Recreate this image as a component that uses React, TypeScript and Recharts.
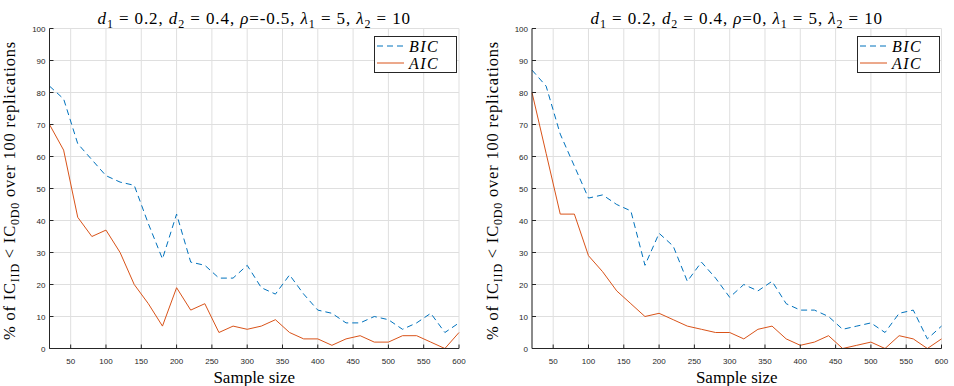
import React from 'react';
import {
  LineChart,
  Line,
  XAxis,
  YAxis,
  CartesianGrid,
  Legend,
  Label
} from 'recharts';

// sample sizes (x axis)
const sampleSizes = [
  20, 40, 60, 80, 100, 120, 140, 160, 180, 200,
  220, 240, 260, 280, 300, 320, 340, 360, 380, 400,
  420, 440, 460, 480, 500, 520, 540, 560, 580, 600
];

// rho = -0.5
const bicLeft = [82, 78, 64, 59, 54, 52, 51, 39, 28, 42, 27, 26, 22, 22, 26, 19, 17, 23, 17, 12, 11, 8, 8, 10, 9, 6, 8, 11, 5, 8];
const aicLeft = [70, 62, 41, 35, 37, 30, 20, 14, 7, 19, 12, 14, 5, 7, 6, 7, 9, 5, 3, 3, 1, 3, 4, 2, 2, 4, 4, 2, 0, 5];

// rho = 0
const bicRight = [87, 82, 67, 57, 47, 48, 45, 43, 26, 36, 32, 21, 27, 22, 16, 20, 18, 21, 14, 12, 12, 10, 6, 7, 8, 5, 11, 12, 3, 7];
const aicRight = [80, 61, 42, 42, 29, 24, 18, 14, 10, 11, 9, 7, 6, 5, 5, 3, 6, 7, 3, 1, 2, 4, 0, 1, 2, 0, 4, 3, 0, 3];

const xTicks = [50, 100, 150, 200, 250, 300, 350, 400, 450, 500, 550, 600];
const yTicks = [0, 10, 20, 30, 40, 50, 60, 70, 80, 90, 100];

const BIC_COLOR = '#0072BD';
const AIC_COLOR = '#D95319';
const AXIS_COLOR = '#262626';
const SERIF = "'Liberation Serif', 'Times New Roman', serif";
const SANS = "'Liberation Sans', Arial, sans-serif";

const serifStyle = { fontFamily: SERIF };
const sansStyle = { fontFamily: SANS };

const BottomTick = ({ x, y, payload }: any) => (
  <g>
    <line x1={x} x2={x} y1={y} y2={y - 4} stroke={AXIS_COLOR} />
    <text x={x} y={y + 15} textAnchor="middle" fontSize={8} style={sansStyle} fill={AXIS_COLOR}>
      {payload.value}
    </text>
  </g>
);

const LeftTick = ({ x, y, payload }: any) => (
  <g>
    <line x1={x} x2={x + 4} y1={y} y2={y} stroke={AXIS_COLOR} />
    <text x={x - 4} y={y + 3} textAnchor="end" fontSize={8} style={sansStyle} fill={AXIS_COLOR}>
      {payload.value}
    </text>
  </g>
);

const TopTick = ({ x, y }: any) => (
  <line x1={x} x2={x} y1={y} y2={y + 4} stroke={AXIS_COLOR} />
);

const RightTick = ({ x, y }: any) => (
  <line x1={x} x2={x - 4} y1={y} y2={y} stroke={AXIS_COLOR} />
);

// title above the plot and "Sample size" below it, both centred on the plot
const renderXLabels = (rho: string) => (props: any) => {
  const vb = props.viewBox || {};
  const cx = vb.x + vb.width / 2;
  return (
    <g>
      <text x={cx} y={24} textAnchor="middle" fontSize={17} style={serifStyle} fill="#000" letterSpacing={0.9}>
        <tspan fontStyle="italic">d</tspan>
        <tspan dy={4} fontSize={12}>1</tspan>
        <tspan dy={-4}> = 0.2, </tspan>
        <tspan fontStyle="italic">d</tspan>
        <tspan dy={4} fontSize={12}>2</tspan>
        <tspan dy={-4}> = 0.4, </tspan>
        <tspan fontStyle="italic">ρ</tspan>
        <tspan>={rho}, </tspan>
        <tspan fontStyle="italic">λ</tspan>
        <tspan dy={4} fontSize={12}>1</tspan>
        <tspan dy={-4}> = 5, </tspan>
        <tspan fontStyle="italic">λ</tspan>
        <tspan dy={4} fontSize={12}>2</tspan>
        <tspan dy={-4}> = 10</tspan>
      </text>
      <text x={cx} y={383} textAnchor="middle" fontSize={17} style={serifStyle} fill="#000">
        Sample size
      </text>
    </g>
  );
};

const renderYLabel = (props: any) => {
  const vb = props.viewBox || {};
  const lx = vb.x + vb.width - 34.5;
  const cy = vb.y + vb.height / 2 + 2;
  return (
    <text
      x={lx}
      y={cy}
      transform={`rotate(-90, ${lx}, ${cy})`}
      textAnchor="middle"
      fontSize={16.5}
      style={serifStyle}
      fill="#000"
      letterSpacing={0.8}
    >
      <tspan>% of IC</tspan>
      <tspan dy={4} fontSize={12}>IID</tspan>
      <tspan dy={-4}> {'<'} IC</tspan>
      <tspan dy={4} fontSize={12}>0D0</tspan>
      <tspan dy={-4}> over 100 replications</tspan>
    </text>
  );
};

const legendItems = [
  { name: 'BIC', color: BIC_COLOR, dash: '6 4' },
  { name: 'AIC', color: AIC_COLOR, dash: undefined }
];

const renderLegend = () => (
  <div
    style={{
      border: `1px solid ${AXIS_COLOR}`,
      background: '#fff',
      width: 81,
      height: 35,
      boxSizing: 'content-box',
      display: 'flex',
      flexDirection: 'column',
      justifyContent: 'center'
    }}
  >
    {legendItems.map((it) => (
      <div key={it.name} style={{ display: 'flex', alignItems: 'center', height: 17 }}>
        <svg width={32} height={12} style={{ display: 'block' }}>
          <line x1={2} x2={29} y1={6} y2={6} stroke={it.color} strokeWidth={1} strokeDasharray={it.dash} />
        </svg>
        <span
          style={{
            fontFamily: SERIF,
            fontStyle: 'italic',
            fontSize: 16,
            lineHeight: '17px',
            letterSpacing: 1.5,
            color: '#000',
            marginLeft: 2
          }}
        >
          {it.name}
        </span>
      </div>
    ))}
  </div>
);

interface PanelProps {
  bic: number[];
  aic: number[];
  rho: string;
  marginLeft: number;
  marginRight: number;
  legendLeft: number;
}

const Panel = ({ bic, aic, rho, marginLeft, marginRight, legendLeft }: PanelProps) => {
  const data = sampleSizes.map((n, i) => ({ n, bic: bic[i], aic: aic[i] }));
  return (
    <LineChart
      width={477}
      height={386}
      data={data}
      margin={{ top: 28.5, right: marginRight, bottom: 17.5, left: marginLeft }}
    >
      <CartesianGrid stroke="#dfdfdf" strokeWidth={1} />
      <XAxis
        dataKey="n"
        type="number"
        domain={[20, 600]}
        ticks={xTicks}
        height={20}
        tickSize={0}
        tickMargin={0}
        tick={<BottomTick />}
        axisLine={{ stroke: AXIS_COLOR }}
        interval={0}
      >
        <Label content={renderXLabels(rho)} />
      </XAxis>
      <XAxis
        xAxisId="top"
        orientation="top"
        dataKey="n"
        type="number"
        domain={[20, 600]}
        ticks={xTicks}
        height={0}
        tickSize={0}
        tickMargin={0}
        tick={<TopTick />}
        axisLine={{ stroke: AXIS_COLOR }}
        interval={0}
      />
      <YAxis
        type="number"
        domain={[0, 100]}
        ticks={yTicks}
        width={30}
        tickSize={0}
        tickMargin={0}
        tick={<LeftTick />}
        axisLine={{ stroke: AXIS_COLOR }}
        interval={0}
      >
        <Label content={renderYLabel} />
      </YAxis>
      <YAxis
        yAxisId="right"
        orientation="right"
        type="number"
        domain={[0, 100]}
        ticks={yTicks}
        width={0}
        tickSize={0}
        tickMargin={0}
        tick={<RightTick />}
        axisLine={{ stroke: AXIS_COLOR }}
        interval={0}
      />
      <Line
        type="linear"
        dataKey="bic"
        name="BIC"
        stroke={BIC_COLOR}
        strokeWidth={1}
        strokeDasharray="6 4"
        dot={false}
        isAnimationActive={false}
      />
      <Line
        type="linear"
        dataKey="aic"
        name="AIC"
        stroke={AIC_COLOR}
        strokeWidth={1}
        dot={false}
        isAnimationActive={false}
      />
      <Legend
        layout="vertical"
        align="center"
        verticalAlign="middle"
        content={renderLegend}
        wrapperStyle={{ left: legendLeft, top: 36, width: 83, height: 37 }}
      />
    </LineChart>
  );
};

export default function App() {
  return (
    <div
      style={{
        position: 'absolute',
        left: 0,
        top: 0,
        width: 954,
        height: 386,
        background: '#fff',
        display: 'flex'
      }}
    >
      <Panel bic={bicLeft} aic={aicLeft} rho="-0.5" marginLeft={19.5} marginRight={18} legendLeft={374} />
      <Panel bic={bicRight} aic={aicRight} rho="0" marginLeft={25} marginRight={12.5} legendLeft={380} />
    </div>
  );
}
